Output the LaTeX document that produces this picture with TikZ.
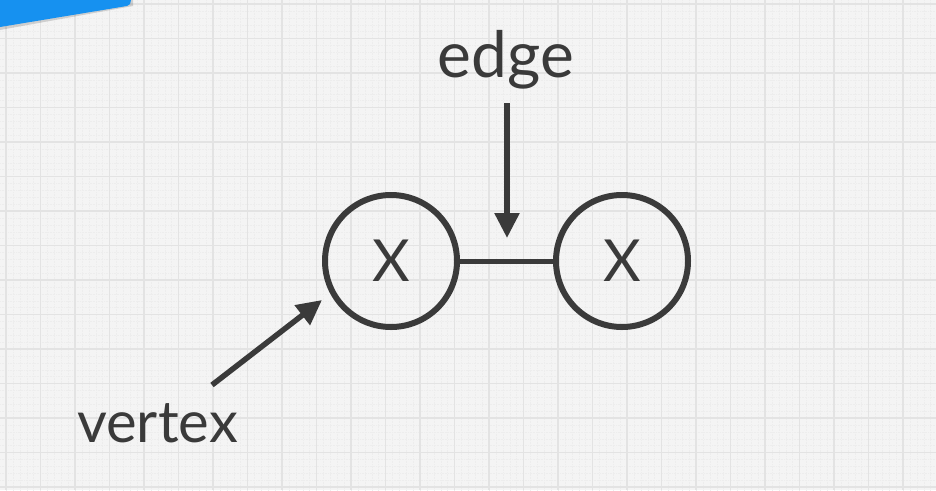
\documentclass[tikz,border=0pt]{standalone}
\usepackage{fontspec}
\setmainfont{Lato}
\usetikzlibrary{arrows.meta}
\definecolor{bg}{HTML}{F4F4F4}
\definecolor{gridmajor}{HTML}{E3E3E3}
\definecolor{gridminor}{HTML}{EDEDED}
\definecolor{ink}{HTML}{3A3A3A}
\definecolor{blueband}{HTML}{1691F0}
\tikzset{
  vertexnode/.style={circle, draw=ink, line width=6pt, minimum size=132pt, inner sep=0pt, text=ink, font=\fontsize{58}{60}\selectfont},
  labeltext/.style={text=ink, inner sep=0pt, anchor=base},
  pointer/.style={draw=ink, line width=5.5pt, -{Triangle[length=25pt,width=24pt]}},
  edgeline/.style={draw=ink, line width=5pt}
}
\begin{document}
\begin{tikzpicture}[x=1pt,y=-1pt]
\useasboundingbox (0,0) rectangle (936,490);
\fill[bg] (0,0) rectangle (936,490);
% minor grid
\foreach \i in {0,...,140} {
  \draw[gridminor, line width=0.4pt, dash pattern=on 0.8pt off 0.8pt] ({6+6.9*(\i-5)},0) -- ++(0,490);
}
\foreach \i in {0,...,75} {
  \draw[gridminor, line width=0.4pt, dash pattern=on 0.8pt off 0.8pt] (0,{4+6.9*\i}) -- ++(936,0);
}
% major grid
\foreach \i in {0,...,27} {
  \draw[gridmajor, line width=1.4pt] ({6+34.5*\i},0) -- ++(0,490);
}
\foreach \i in {0,...,14} {
  \draw[gridmajor, line width=1.4pt] (0,{4+34.5*\i}) -- ++(936,0);
}
% blue band at top left
\fill[black, opacity=0.15] (0,0) -- (133,0) -- (133,6) -- (0,30) -- cycle;
\fill[blueband] (0,0) -- (131,0) -- (130,4) -- (127,6) -- (0,27) -- cycle;
% vertices
\node[vertexnode] (v1) at (391,261) {X};
\node[vertexnode] (v2) at (622,261) {X};
\draw[edgeline] (v1) -- (v2);
% labels
\node[labeltext, font=\fontsize{64}{66}\selectfont] (edgelbl) at (506,77) {edge};
\node[labeltext, font=\fontsize{58}{60}\selectfont] (vertexlbl) at (157.5,442) {vertex};
% pointers
\coordinate (edgefrom) at (507,103);
\coordinate (edgetip) at (507,238);
\coordinate (vertexfrom) at (212,385);
\coordinate (vertextip) at (322,300);
\draw[pointer] (edgefrom) -- (edgetip);
\draw[pointer] (vertexfrom) -- (vertextip);
\end{tikzpicture}
\end{document}
